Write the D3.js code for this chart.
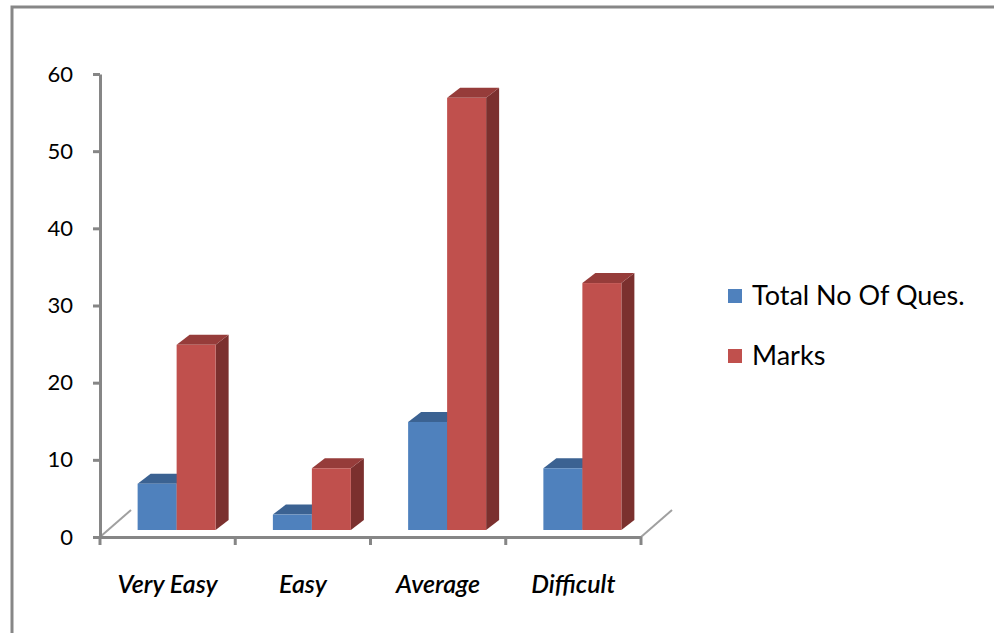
<!DOCTYPE html>
<html>
<head>
<meta charset="utf-8">
<script src="https://cdn.jsdelivr.net/npm/d3@7"></script>
<style>
  html, body { margin: 0; padding: 0; background: #fff; overflow: hidden; }
  .axis text { font-family: Lato, "Open Sans", sans-serif; fill: #000; }
</style>
</head>
<body>
<div id="graf"></div>
<script>
// datos
const categories = ['Very Easy', 'Easy', 'Average', 'Difficult']
const seriesNames = ['Total No Of Ques.', 'Marks']
const totalQues = [6, 2, 14, 8]
const marks = [24, 8, 56, 32]
const yTicks = [0, 10, 20, 30, 40, 50, 60]

const ancho_total = 994
const alto_total = 633

const colors = {
  'Total No Of Ques.': { front: '#4f81bd', top: '#3b6292', side: '#385d8a' },
  'Marks': { front: '#c0504d', top: '#963c3a', side: '#7b302e' }
}

const svg = d3.select('#graf').append('svg')
  .attr('width', ancho_total)
  .attr('height', alto_total)

// marco
svg.append('rect')
  .attr('x', 12).attr('y', 7)
  .attr('width', 1000).attr('height', 700)
  .attr('fill', 'none')
  .attr('stroke', '#878787')
  .attr('stroke-width', 3)

const x = d3.scaleBand().domain(categories).range([100, 641])
const y = d3.scaleLinear().domain([0, 60]).range([537, 74])
const x1 = d3.scaleBand().domain(seriesNames).range([-39, 39])

// profundidad 3D
const floorDx = 31, floorDy = 27
const shiftX = 9, shiftY = 7
const barDx = 13, barDy = 10

const axisColor = '#868686'

// suelo: lineas diagonales
;[x.range()[0], x.range()[1]].forEach(px => {
  svg.append('line')
    .attr('x1', px).attr('y1', y(0))
    .attr('x2', px + floorDx).attr('y2', y(0) - floorDy)
    .attr('stroke', '#a0a0a0')
    .attr('stroke-width', 2)
})

// barras
const rows = categories.map((c, i) => ({
  cat: c,
  values: [
    { serie: seriesNames[0], value: totalQues[i] },
    { serie: seriesNames[1], value: marks[i] }
  ]
}))

const groups = svg.selectAll('g.cat')
  .data(rows)
  .enter().append('g')
  .attr('class', 'cat')

const bars = groups.selectAll('g.bar')
  .data(d => d.values.map(v => Object.assign({ cat: d.cat }, v)))
  .enter().append('g')
  .attr('class', 'bar')

function geom(d) {
  const x0 = x(d.cat) + x.bandwidth() / 2 + shiftX + x1(d.serie)
  const xr = x0 + x1.bandwidth()
  const yt = y(d.value) - shiftY
  const yb = y(0) - shiftY
  return { x0, xr, yt, yb }
}

bars.append('polygon')
  .attr('points', d => {
    const g = geom(d)
    return [[g.xr, g.yt], [g.xr + barDx, g.yt - barDy], [g.xr + barDx, g.yb - barDy], [g.xr, g.yb]].join(' ')
  })
  .attr('fill', d => colors[d.serie].side)

bars.append('polygon')
  .attr('points', d => {
    const g = geom(d)
    return [[g.x0, g.yt], [g.x0 + barDx, g.yt - barDy], [g.xr + barDx, g.yt - barDy], [g.xr, g.yt]].join(' ')
  })
  .attr('fill', d => colors[d.serie].top)

bars.append('rect')
  .attr('x', d => geom(d).x0)
  .attr('y', d => geom(d).yt)
  .attr('width', x1.bandwidth())
  .attr('height', d => geom(d).yb - geom(d).yt)
  .attr('fill', d => colors[d.serie].front)

// EJE Y
const yAxis = svg.append('g')
  .attr('class', 'axis y')
  .attr('transform', 'translate(100,0)')
  .call(d3.axisLeft(y).tickValues(yTicks).tickSize(7).tickSizeOuter(0).tickPadding(20))

yAxis.selectAll('text').style('font-size', '22px')

// EJE X
const xAxis = svg.append('g')
  .attr('class', 'axis x')
  .attr('transform', `translate(0,${ y(0) })`)
  .call(d3.axisBottom(x).tickSize(0).tickSizeOuter(0).tickPadding(38))

xAxis.selectAll('.tick line').remove()
xAxis.selectAll('text')
  .style('font-size', '25px')
  .style('font-style', 'italic')
  .style('font-weight', '600')

xAxis.selectAll('line.bound')
  .data(categories.map(c => x(c)).concat([x.range()[1]]))
  .enter().append('line')
  .attr('class', 'bound')
  .attr('x1', d => d).attr('x2', d => d)
  .attr('y1', 0).attr('y2', 8)

svg.selectAll('.axis path, .axis line')
  .attr('stroke', axisColor)
  .attr('stroke-width', 3)

// LEYENDA
const legend = svg.append('g')
  .selectAll('g')
  .data(seriesNames)
  .enter().append('g')
  .attr('transform', (d, i) => `translate(728,${ 289 + i * 60 })`)

legend.append('rect')
  .attr('width', 14).attr('height', 14)
  .attr('fill', d => colors[d].front)

legend.append('text')
  .attr('x', 24).attr('y', 7)
  .attr('dy', '0.35em')
  .style('font-family', 'Lato, "Open Sans", sans-serif')
  .style('font-size', '27px')
  .text(d => d)
</script>
</body>
</html>
